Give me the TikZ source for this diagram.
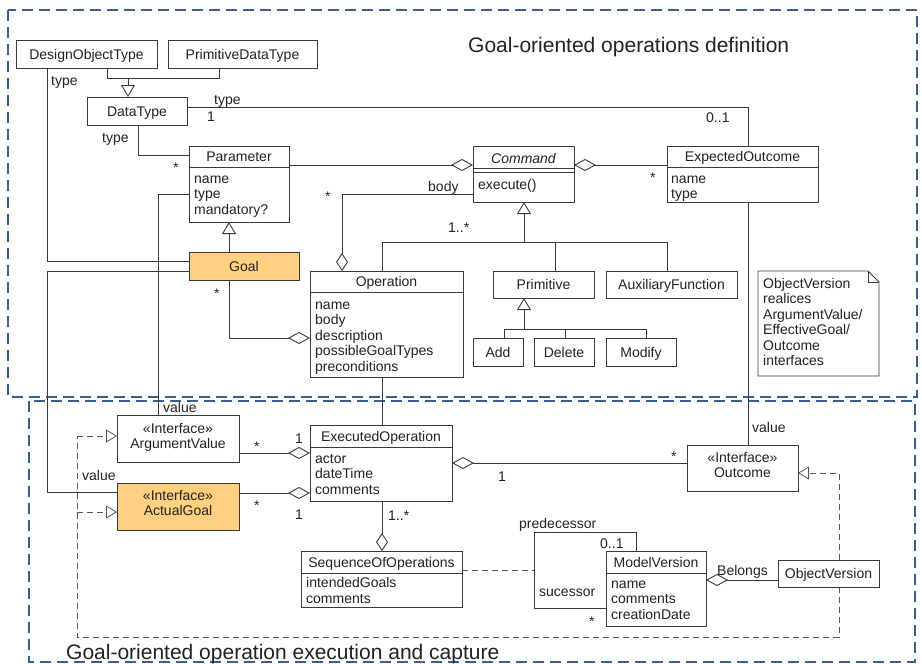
\documentclass[tikz,border=0pt]{standalone}
\usepackage{fontspec}
\setmainfont{Liberation Sans}
\usetikzlibrary{arrows.meta}
\definecolor{linec}{HTML}{3A3A3A}
\definecolor{txtc}{HTML}{222222}
\definecolor{framec}{HTML}{3B5F91}
\definecolor{goalc}{HTML}{FFD07F}
\definecolor{dashc}{HTML}{555555}
\begin{document}
\begin{tikzpicture}[x=1pt,y=-1pt,
 cls/.style={draw=linec, line width=0.9pt, inner sep=0pt, outer sep=0pt, anchor=north west, fill=white},
 goalcls/.style={cls, fill=goalc},
 t/.style={font=\fontsize{14}{15.5}\selectfont, text=txtc, inner sep=0pt, anchor=base},
 tl/.style={t, anchor=base west},
 conn/.style={draw=linec, line width=0.9pt},
 agg/.style={conn, -{Diamond[open, length=22pt, width=12pt]}},
 aggv/.style={conn, -{Diamond[open, length=18pt, width=12pt]}},
 gen/.style={conn, -{Triangle[open, length=12pt, width=14pt]}},
 dsh/.style={draw=dashc, line width=0.8pt, dash pattern=on 6pt off 4pt},
 real/.style={dsh, -{Triangle[open, length=11pt, width=13pt]}},
 frm/.style={draw=framec, line width=2.4pt, dash pattern=on 11pt off 6pt},
 ttl/.style={font=\fontsize{21}{25}\selectfont, text=txtc, inner sep=0pt, anchor=base west}
]
\useasboundingbox (0,0) rectangle (922,664);
% frames
\draw[frm] (8,10) rectangle (917,397);
\draw[frm] (29,401) rectangle (915,662);
\node[ttl] (title1) at (468,52) {Goal-oriented operations definition};
\node[ttl] (title2) at (66,659) {Goal-oriented operation execution and capture};

% class boxes
\node[cls, minimum width=141, minimum height=28] (dot) at (16,40) {};
\node[cls, minimum width=149, minimum height=28] (pdt) at (168,40) {};
\node[cls, minimum width=100, minimum height=28] (dtype) at (87,97) {};
\node[cls, minimum width=100, minimum height=76] (param) at (189,146) {};
\node[cls, minimum width=101, minimum height=56] (cmd) at (473,146) {};
\node[cls, minimum width=151, minimum height=56] (expo) at (667,146) {};
\node[goalcls, minimum width=110, minimum height=28] (goal) at (189,252) {};
\node[cls, minimum width=153, minimum height=106] (oper) at (310,271) {};
\node[cls, minimum width=101, minimum height=27] (prim) at (493,271) {};
\node[cls, minimum width=131, minimum height=27] (aux) at (606,271) {};
\node[cls, minimum width=50, minimum height=28] (add) at (473,338) {};
\node[cls, minimum width=60, minimum height=28] (del) at (534,338) {};
\node[cls, minimum width=70, minimum height=28] (mod) at (606,338) {};
\node[cls, minimum width=122, minimum height=47] (argv) at (117,415) {};
\node[goalcls, minimum width=122, minimum height=47] (actg) at (117,483) {};
\node[cls, minimum width=142, minimum height=76] (exop) at (310,425) {};
\node[cls, minimum width=111, minimum height=46] (outc) at (687,445) {};
\node[cls, minimum width=161, minimum height=56] (seq) at (301,551) {};
\node[cls, minimum width=100, minimum height=75] (mver) at (606,551) {};
\node[cls, minimum width=101, minimum height=27] (over) at (778,560) {};
% note
\draw[conn, fill=white] (758,271) -- (868,271) -- (879,282) -- (879,376) -- (758,376) -- cycle;
\draw[conn] (868,271) -- (868,282) -- (879,282);

% compartment dividers
\draw[conn] (param.west |- 0,167) -- (param.east |- 0,167);
\draw[conn] (cmd.west |- 0,168) -- (cmd.east |- 0,168);
\draw[conn] (cmd.west |- 0,172) -- (cmd.east |- 0,172);
\draw[conn] (expo.west |- 0,167) -- (expo.east |- 0,167);
\draw[conn] (oper.west |- 0,292) -- (oper.east |- 0,292);
\draw[conn] (exop.west |- 0,447) -- (exop.east |- 0,447);
\draw[conn] (seq.west |- 0,573) -- (seq.east |- 0,573);
\draw[conn] (mver.west |- 0,573) -- (mver.east |- 0,573);

% class texts
\node[t] (tdot) at (86.5,59) {DesignObjectType};
\node[t] (tpdt) at (242.5,59) {PrimitiveDataType};
\node[t] (tdtype) at (137,116) {DataType};
\node[t] (tparam) at (239,161.5) {Parameter};
\node[tl] (pa1) at (194,183) {name};
\node[tl] (pa2) at (194,198.5) {type};
\node[tl] (pa3) at (194,214) {mandatory?};
\node[t] (tcmd) at (523.5,163) {\itshape Command};
\node[tl] (cm1) at (478,189) {execute()};
\node[t] (texpo) at (742.5,161.5) {ExpectedOutcome};
\node[tl] (ex1) at (671,183) {name};
\node[tl] (ex2) at (671,198.5) {type};
\node[t] (tgoal) at (244,271) {Goal};
\node[t] (toper) at (386.5,286.5) {Operation};
\node[tl] (op1) at (315,309) {name};
\node[tl] (op2) at (315,324.5) {body};
\node[tl] (op3) at (315,340) {description};
\node[tl] (op4) at (315,355.5) {possibleGoalTypes};
\node[tl] (op5) at (315,371) {preconditions};
\node[t] (tprim) at (543.5,289.5) {Primitive};
\node[t] (taux) at (671.5,289.5) {AuxiliaryFunction};
\node[t] (tadd) at (498,357) {Add};
\node[t] (tdel) at (564,357) {Delete};
\node[t] (tmod) at (641,357) {Modify};
\node[tl] (no1) at (763,288) {ObjectVersion};
\node[tl] (no2) at (763,303.5) {realices};
\node[tl] (no3) at (763,319) {ArgumentValue/};
\node[tl] (no4) at (763,334.5) {EffectiveGoal/};
\node[tl] (no5) at (763,350) {Outcome};
\node[tl] (no6) at (763,365.5) {interfaces};
\node[t] (targv1) at (178,433) {«Interface»};
\node[t] (targv2) at (178,448.5) {ArgumentValue};
\node[t] (tactg1) at (178,500) {«Interface»};
\node[t] (tactg2) at (178,515.5) {ActualGoal};
\node[t] (texop) at (381,441) {ExecutedOperation};
\node[tl] (eo1) at (315,463) {actor};
\node[tl] (eo2) at (315,478.5) {dateTime};
\node[tl] (eo3) at (315,494) {comments};
\node[t] (toutc1) at (742.5,462) {«Interface»};
\node[t] (toutc2) at (742.5,477.5) {Outcome};
\node[t] (tseq) at (381.5,567) {SequenceOfOperations};
\node[tl] (sq1) at (306,587.5) {intendedGoals};
\node[tl] (sq2) at (306,603) {comments};
\node[t] (tmver) at (656,567) {ModelVersion};
\node[tl] (mv1) at (611,588) {name};
\node[tl] (mv2) at (611,603.5) {comments};
\node[tl] (mv3) at (611,619) {creationDate};
\node[t] (tover) at (828.5,578.5) {ObjectVersion};

% connectors
\coordinate (g1) at (107,78); \coordinate (g2) at (219,78); \coordinate (g3) at (128,78);
\draw[conn] (dot.south -| g1) -- (g1) -- (g2) -- (pdt.south -| g2);
\draw[gen] (g3) -- (dtype.north -| g3);

\coordinate (c1) at (748,107);
\draw[conn] (dtype.east |- c1) -- (c1) -- (expo.north -| c1);
\coordinate (c2) at (138,155);
\draw[conn] (dtype.south -| c2) -- (c2) -- (param.west |- c2);
\coordinate (c3) at (47,261);
\draw[conn] (dot.south -| c3) -- (c3) -- (goal.west |- c3);
\coordinate (c4) at (47,271); \coordinate (c5) at (47,492);
\draw[conn] (goal.west |- c4) -- (c4) -- (c5) -- (actg.west |- c5);
\coordinate (c6) at (158,194);
\draw[conn] (param.west |- c6) -- (c6) -- (argv.north -| c6);
\coordinate (c7) at (229,240);
\draw[gen] (goal.north -| c7) -- (param.south -| c7);
\coordinate (c8) at (229,338);
\draw[agg] (goal.south -| c8) -- (c8) -- (oper.west |- c8);
\coordinate (c9) at (300,165);
\draw[agg] (param.east |- c9) -- (cmd.west |- c9);
\draw[agg] (expo.west |- c9) -- (cmd.east |- c9);
\coordinate (c10) at (342,194);
\draw[aggv] (cmd.west |- c10) -- (c10) -- (oper.north -| c10);
\coordinate (c11) at (524,242);
\draw[gen] (c11) -- (cmd.south -| c11);
\coordinate (c12) at (382,242); \coordinate (c13) at (667,242); \coordinate (c14) at (555,242);
\draw[conn] (oper.north -| c12) -- (c12) -- (c13) -- (aux.north -| c13);
\draw[conn] (c14) -- (prim.north -| c14);
\coordinate (c15) at (524,329);
\draw[gen] (c15) -- (prim.south -| c15);
\coordinate (c16) at (504,329); \coordinate (c17) at (646,329); \coordinate (c18) at (565,329);
\draw[conn] (add.north -| c16) -- (c16) -- (c17) -- (mod.north -| c17);
\draw[conn] (c18) -- (del.north -| c18);
\coordinate (c19) at (748,300);
\draw[conn] (expo.south -| c19) -- (outc.north -| c19);
\coordinate (c20) at (382,400);
\draw[conn] (oper.south -| c20) -- (exop.north -| c20);
\coordinate (c21) at (260,453);
\draw[agg] (argv.east |- c21) -- (exop.west |- c21);
\coordinate (c22) at (260,493);
\draw[agg] (actg.east |- c22) -- (exop.west |- c22);
\coordinate (c23) at (600,463);
\draw[agg] (outc.west |- c23) -- (exop.east |- c23);
\coordinate (c24) at (382,520);
\draw[aggv] (exop.south -| c24) -- (seq.north -| c24);
\coordinate (c25) at (636,532); \coordinate (c26) at (534,532); \coordinate (c27) at (534,608);
\draw[conn] (mver.north -| c25) -- (c25) -- (c26) -- (c27) -- (mver.west |- c27);
\coordinate (c28) at (534,570);
\draw[dsh] (seq.east |- c28) -- (c28);
\coordinate (c29) at (740,580);
\draw[agg] (over.west |- c29) -- (mver.east |- c29);
\coordinate (c30) at (839,473);
\draw[real] (over.north -| c30) -- (c30) -- (outc.east |- c30);
\coordinate (c31) at (839,637); \coordinate (c32) at (77,637); \coordinate (c33) at (77,436); \coordinate (c34) at (77,512);
\draw[dsh] (over.south -| c31) -- (c31) -- (c32) -- (c33);
\draw[real] (c33) -- (argv.west |- c33);
\draw[real] (c34) -- (actg.west |- c34);

% labels
\node[tl] (l1) at (51,85) {type};
\node[tl] (l2) at (214,104) {type};
\node[tl] (l3) at (207,121) {1};
\node[tl] (l4) at (102,142) {type};
\node[tl] (l5) at (173,172) {*};
\node[tl] (l6) at (706,122) {0..1};
\node[tl] (l7) at (650,182) {*};
\node[tl] (l8) at (428,191) {body};
\node[tl] (l9) at (325,201) {*};
\node[tl] (l10) at (448,232) {1..*};
\node[tl] (l11) at (214,298) {*};
\node[tl] (l12) at (163,412) {value};
\node[tl] (l13) at (82,480) {value};
\node[tl] (l14) at (254,451) {*};
\node[tl] (l15) at (295,443) {1};
\node[tl] (l16) at (254,510) {*};
\node[tl] (l17) at (295,519) {1};
\node[tl] (l18) at (388,520) {1..*};
\node[tl] (l19) at (498,481) {1};
\node[tl] (l20) at (671,461) {*};
\node[tl] (l21) at (752,432) {value};
\node[tl] (l22) at (519,528) {predecessor};
\node[tl] (l23) at (600,548) {0..1};
\node[tl] (l24) at (539,596) {sucessor};
\node[tl] (l25) at (589,626) {*};
\node[tl] (l26) at (717,575) {Belongs};
\end{tikzpicture}
\end{document}
